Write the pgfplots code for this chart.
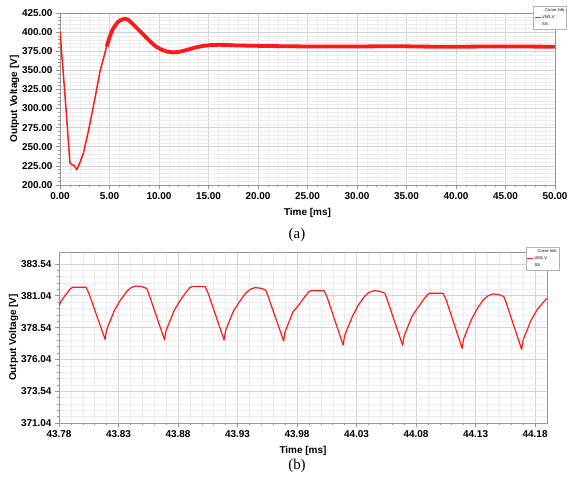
\documentclass[border=0pt]{standalone}
\usepackage{fontspec}
\setmainfont{Liberation Sans}
\newfontfamily\capfont{Liberation Serif}
\usepackage{pgfplots}
\pgfplotsset{compat=1.18}
\definecolor{vmred}{RGB}{255,25,25}
\definecolor{gmaj}{RGB}{212,212,212}
\definecolor{gmin}{RGB}{236,236,236}
\definecolor{frame}{RGB}{150,150,150}

\pgfplotsset{
  scopestyle/.style={
    scale only axis, tick pos=left, tick align=outside,
    grid=both, minor tick num=4,
    major grid style={gmaj,line width=0.6bp},
    minor grid style={gmin,line width=0.5bp},
    axis line style={frame,line width=0.8bp},
    every tick/.style={frame,line width=0.6bp},
    major tick length=4bp, minor tick length=2bp,
    label style={font=\bfseries\fontsize{10}{12}\selectfont},
    ylabel shift=-4bp, xlabel shift=2bp,
    tick label style={font=\bfseries\fontsize{10}{12}\selectfont},
    /pgf/number format/.cd,fixed,fixed zerofill,precision=2,assume math mode=true,
    /pgfplots/.cd,
    xticklabel={\textbf{\pgfmathprintnumber{\tick}}},
    yticklabel={\textbf{\pgfmathprintnumber{\tick}}},
    legend style={anchor=north west,font=\fontsize{4.2}{5}\selectfont,
      draw=gray!60,fill=white,inner sep=1.2bp,row sep=1.2bp,
      legend cell align=left,
      nodes={inner sep=0.8bp}},
    legend image code/.code={\draw[vmred,line width=0.8bp] (0bp,0bp) -- (6bp,0bp);},
  },
}

\begin{document}
\begin{tikzpicture}
\useasboundingbox (0,0) rectangle (568bp,-484bp);

% (a) start-up transient
\begin{axis}[scopestyle,
  at={(60bp,-185bp)}, anchor=south west,
  width=495bp, height=172bp,
  xmin=0, xmax=50, ymin=200, ymax=425,
  xtick={0,5,...,50}, ytick={200,225,...,425},
  xlabel={Time [ms]}, ylabel={Output Voltage [V]},
  legend style={at={(rel axis cs:0.956,1.04)}},
]
\addlegendimage{empty legend}\addlegendentry{\hspace{3bp}Curve Info}
\addlegendimage{vmred}\addlegendentry{VM1.V}
\addlegendimage{empty legend}\addlegendentry{SS}
\addplot[vmred,line width=1.5bp,line join=round,forget plot] coordinates {
  (0,401) (0.5,318) (1.0,229) (1.2,226.5) (1.4,226) (1.7,220) (2.0,229)
  (2.36,241.5) (2.86,270) (3.2,292) (3.54,314) (4.04,348.5) (4.4,366)
  (4.71,381) (5.0,393)
};
\addplot[vmred,line width=3.8bp,line join=round,forget plot] coordinates {
  (4.71,381) (5.0,393) (5.29,403) (5.6,409) (5.9,414) (6.2,416) (6.57,417.6)
  (6.9,416) (7.24,412) (7.7,406) (8.25,399) (8.7,393) (9.26,386) (9.7,381)
  (10.27,377) (10.8,374.5) (11.4,373.4) (12.0,374.2) (12.5,375.6) (13.1,377.8)
  (13.7,380) (14.4,381.8) (15.2,383) (16.0,383.4) (16.8,383.2) (17.8,382.6)
  (19.2,382.2) (21,381.8) (23,381.5) (25,381.2) (27,381.2) (30,381.2)
  (34,381.6) (37,381.0) (40,380.8) (44,381.3) (47,381.1) (50,380.9)
};
\end{axis}
\node[font=\capfont\fontsize{15}{18}\selectfont] at (297bp,-235bp) {(a)};

% (b) steady-state ripple
\begin{axis}[scopestyle,
  at={(59bp,-423bp)}, anchor=south west,
  width=488bp, height=171bp,
  xmin=43.78, xmax=44.19, ymin=371.04, ymax=384.48,
  xtick={43.78,43.83,43.88,43.93,43.98,44.03,44.08,44.13,44.18},
  ytick={371.04,373.54,376.04,378.54,381.04,383.54},
  xlabel={Time [ms]}, ylabel={Output Voltage [V]},
  legend style={at={(rel axis cs:0.956,1.03)}},
]
\addlegendimage{empty legend}\addlegendentry{\hspace{3bp}Curve Info}
\addlegendimage{vmred}\addlegendentry{VM1.V}
\addlegendimage{empty legend}\addlegendentry{SS}
\addplot[vmred,line width=1.2bp,line join=round,forget plot] coordinates {
  (43.7800,380.24) (43.7817,380.61) (43.7867,381.26) (43.7897,381.61)
  (43.7917,381.71) (43.8027,381.71) (43.8052,381.21) (43.8187,377.62)
  (43.8200,378.37) (43.8267,379.92) (43.8317,380.71) (43.8367,381.36)
  (43.8407,381.69) (43.8447,381.81) (43.8497,381.76) (43.8537,381.61)
  (43.8552,381.26) (43.8687,377.57)
  (43.8700,378.32) (43.8767,379.87) (43.8817,380.66) (43.8867,381.31)
  (43.8897,381.66) (43.8917,381.76) (43.9027,381.76) (43.9052,381.26)
  (43.9187,377.57)
  (43.9200,378.32) (43.9267,379.87) (43.9317,380.58) (43.9367,381.23)
  (43.9407,381.56) (43.9447,381.68) (43.9497,381.63) (43.9537,381.48)
  (43.9552,381.13) (43.9687,377.49)
  (43.9700,378.24) (43.9767,379.79) (43.9817,380.34) (43.9867,380.99)
  (43.9897,381.34) (43.9917,381.44) (44.0027,381.44) (44.0052,380.94)
  (44.0187,377.17)
  (44.0200,377.92) (44.0267,379.47) (44.0317,380.34) (44.0367,380.99)
  (44.0407,381.32) (44.0447,381.44) (44.0497,381.39) (44.0537,381.24)
  (44.0552,380.89) (44.0687,377.15)
  (44.0700,377.90) (44.0767,379.45) (44.0817,380.14) (44.0867,380.79)
  (44.0897,381.14) (44.0917,381.24) (44.1027,381.24) (44.1052,380.74)
  (44.1187,376.91)
  (44.1200,377.66) (44.1267,379.21) (44.1317,380.08) (44.1367,380.73)
  (44.1407,381.06) (44.1447,381.18) (44.1497,381.13) (44.1537,380.98)
  (44.1552,380.63) (44.1687,376.83)
  (44.1700,377.58) (44.1767,379.13) (44.1817,379.95) (44.1898,380.84)
};
\end{axis}
\node[font=\capfont\fontsize{15}{18}\selectfont] at (297bp,-466bp) {(b)};
\end{tikzpicture}
\end{document}
